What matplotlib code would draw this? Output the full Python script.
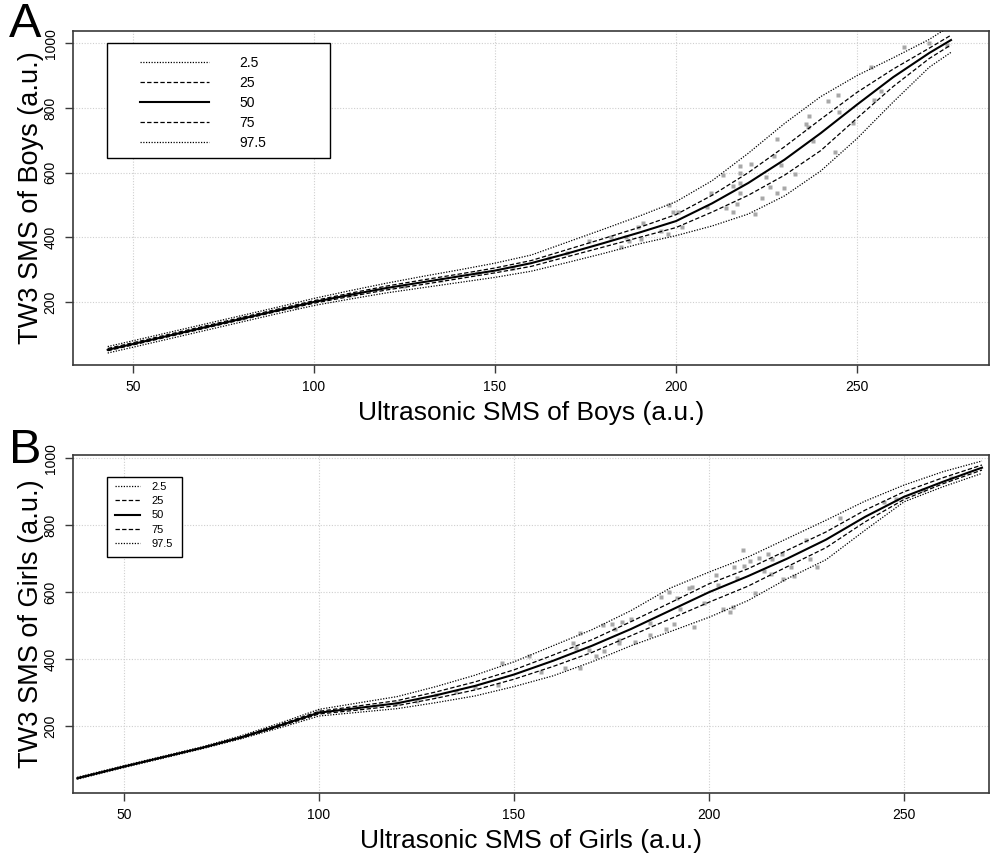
import numpy as np
import matplotlib
matplotlib.use('Agg')
import matplotlib.pyplot as plt
from matplotlib.patches import Rectangle

plt.rcParams['font.family'] = ['Liberation Sans', 'DejaVu Sans']

# percentile curves, boys (panel A)
x_boys = [43, 50, 60, 70, 80, 90, 100, 110, 120, 130, 140, 150, 160, 170, 180,
          190, 200, 210, 220, 230, 240, 250, 260, 270, 276]
boys_p025 = [42, 60, 86, 112, 138, 164, 189, 209, 228, 244, 260, 276, 295, 322, 350,
             380, 405, 435, 472, 528, 605, 705, 818, 926, 972]
boys_p25 = [49, 67, 93, 119, 145, 171, 196, 217, 237, 254, 272, 290, 310, 340, 370,
            400, 430, 478, 530, 592, 668, 768, 866, 953, 995]
boys_p50 = [52, 70, 96, 122, 148, 174, 200, 222, 243, 261, 279, 297, 320, 350, 382,
            415, 450, 505, 568, 640, 722, 810, 895, 970, 1010]
boys_p75 = [56, 74, 100, 126, 152, 178, 204, 227, 249, 268, 286, 305, 328, 362, 396,
            431, 470, 530, 600, 680, 765, 848, 920, 985, 1025]
boys_p975 = [62, 80, 106, 132, 158, 184, 211, 235, 258, 279, 299, 320, 345, 385, 425,
             466, 510, 575, 660, 752, 835, 900, 955, 1012, 1055]

# observed points, boys
boys_x = [80, 95, 110, 125, 135, 145, 155, 165, 170, 176.1, 182.0, 184.8, 186.2, 187.1,
          189.4, 190.3, 190.8, 195.9, 197.7, 198.2, 199.1, 200.5, 201.8, 208.7, 209.7,
          212.9, 213.8, 215.9, 215.9, 216.9, 217.8, 217.8, 217.8, 217.8, 220.7, 221.9,
          223.9, 224.9, 226.1, 227.0, 227.9, 227.9, 229.0, 229.9, 232.9, 235.9, 236.5,
          236.8, 238.0, 241.9, 243.9, 244.9, 245.1, 248.8, 254.8, 256.6, 253.9, 263.1,
          270, 275]
boys_y = [150, 185, 220, 250, 268, 290, 305, 335, 350, 387, 402, 371, 402, 390,
          433, 395, 445, 420, 410, 500, 479, 479, 431, 495, 538,
          593, 492, 560, 479, 503, 621, 598, 569, 538, 626, 471,
          521, 586, 555, 652, 703, 536, 624, 552, 596, 751, 742,
          775, 698, 822, 665, 840, 786, 753, 825, 851, 928, 990,
          1000, 995]

# percentile curves, girls (panel B)
x_girls = [38, 50, 60, 70, 80, 90, 100, 110, 120, 130, 140, 150, 160, 170, 180,
           190, 200, 210, 220, 230, 240, 250, 260, 270]
girls_p025 = [41, 76, 104, 132, 162, 195, 230, 241, 252, 270, 290, 318, 350, 392, 440,
              482, 525, 575, 640, 697, 785, 870, 915, 955]
girls_p25 = [43, 78, 106, 134, 164, 199, 236, 248, 261, 283, 308, 340, 378, 420, 470,
             520, 570, 618, 676, 733, 810, 877, 924, 965]
girls_p50 = [44, 79, 107, 135, 166, 202, 240, 254, 268, 292, 320, 354, 395, 440, 490,
             545, 600, 648, 700, 757, 825, 885, 930, 972]
girls_p75 = [45, 80, 108, 136, 168, 205, 244, 260, 276, 302, 332, 368, 412, 458, 512,
             568, 625, 670, 725, 780, 845, 900, 942, 980]
girls_p975 = [47, 82, 110, 138, 171, 209, 250, 269, 288, 318, 352, 392, 440, 488, 545,
              612, 660, 705, 760, 815, 872, 920, 960, 992]

# observed points, girls
girls_x = [100, 110, 120, 125, 130, 135, 140, 145.9, 147.0, 153.9, 157.0, 163.0, 165.0,
           165.8, 167.0, 167.0, 169.1, 170.9, 172.8, 173.0, 175.2, 175.9, 176.8, 177.0,
           177.8, 180.0, 181.1, 184.8, 184.8, 187.8, 189.0, 189.8, 190.9, 191.7, 192.6,
           194.8, 195.7, 196.1, 198.7, 201.7, 202.2, 203.5, 205.5, 206.1, 206.5, 207.2,
           208.7, 209.0, 210.4, 211.9, 212.8, 214.2, 215.2, 215.9, 216.1, 218.7, 218.9,
           221.1, 221.9, 224.8, 225.8, 227.8, 233.7, 245, 248, 255, 262]
girls_y = [245, 258, 268, 274, 292, 302, 318, 324, 388, 410, 361, 373, 447,
           433, 479, 373, 428, 410, 501, 423, 506, 489, 457, 447,
           511, 521, 450, 472, 508, 585, 489, 600, 506, 583, 551,
           613, 615, 497, 567, 652, 620, 551, 541, 556, 676, 642,
           725, 679, 694, 597, 701, 664, 713, 654, 699, 715, 639,
           674, 649, 755, 699, 676, 822, 870, 878, 905, 940]

fig = plt.figure(figsize=(9.9, 8.56), dpi=100)
ax_a = fig.add_axes([0.0737, 0.5736, 0.9253, 0.3902])
ax_b = fig.add_axes([0.0737, 0.0736, 0.9253, 0.3949])

dot = (0, (1, 1.2))
dash = (0, (3.5, 1.8))
point_col = '#a8a8a8'


def draw_panel(ax, xs, curves, px, py, xlim, ylim, xlabel, ylabel):
    ax.plot(px, py, 's', color=point_col, ms=2.8, mec='none', zorder=2)
    styles = [(dot, 0.9), (dash, 0.9), ('-', 1.5), (dash, 0.9), (dot, 0.9)]
    labels = ['2.5', '25', '50', '75', '97.5']
    handles = []
    for ys, (ls, lw), lab in zip(curves, styles, labels):
        h, = ax.plot(xs, ys, color='black', linestyle=ls, lw=lw, label=lab, zorder=3)
        handles.append(h)
    ax.set_xlim(*xlim)
    ax.set_ylim(*ylim)
    ax.set_xticks([50, 100, 150, 200, 250])
    ax.set_yticks([200, 400, 600, 800, 1000])
    ax.grid(True, color='#cfcfcf', linestyle=(0, (1, 1.5)), lw=0.8)
    ax.set_axisbelow(True)
    for s in ax.spines.values():
        s.set_color('#3a3a3a')
        s.set_linewidth(1.2)
    ax.tick_params(direction='out', length=6, width=1, color='#3a3a3a',
                   labelsize=10, pad=5)
    for t in ax.get_yticklabels():
        t.set_rotation(90)
        t.set_va('center')
    ax.set_xlabel(xlabel, fontsize=19, labelpad=5)
    ax.set_ylabel(ylabel, fontsize=19.5, labelpad=0)
    return handles


h_a = draw_panel(ax_a, x_boys, [boys_p025, boys_p25, boys_p50, boys_p75, boys_p975],
                 boys_x, boys_y, (33.4, 286.5), (5, 1038),
                 'Ultrasonic SMS of Boys (a.u.)', 'TW3 SMS of Boys (a.u.)')
h_b = draw_panel(ax_b, x_girls, [girls_p025, girls_p25, girls_p50, girls_p75, girls_p975],
                 girls_x, girls_y, (36.9, 271.8), (0, 1010),
                 'Ultrasonic SMS of Girls (a.u.)', 'TW3 SMS of Girls (a.u.)')

# legend boxes
ax_a.add_patch(Rectangle((0.0371, 0.620), 0.2434, 0.344, transform=ax_a.transAxes,
                         facecolor='white', edgecolor='black', lw=1.0, zorder=4))
ax_a.legend(handles=h_a, loc='upper left', bbox_to_anchor=(0.0731, 0.925),
            frameon=False, fontsize=10, handlelength=5.0, handletextpad=2.15,
            labelspacing=0.43, borderpad=0, borderaxespad=0).set_zorder(5)

ax_b.add_patch(Rectangle((0.0371, 0.698), 0.0819, 0.237, transform=ax_b.transAxes,
                         facecolor='white', edgecolor='black', lw=1.0, zorder=4))
ax_b.legend(handles=h_b, loc='upper left', bbox_to_anchor=(0.046, 0.92),
            frameon=False, fontsize=8, handlelength=2.25, handletextpad=1.0,
            labelspacing=0.38, borderpad=0, borderaxespad=0).set_zorder(5)

fig.text(0.009, 0.998, 'A', fontsize=35, va='top', ha='left')
fig.text(0.009, 0.500, 'B', fontsize=35, va='top', ha='left')

fig.savefig('out.png', dpi=100)
